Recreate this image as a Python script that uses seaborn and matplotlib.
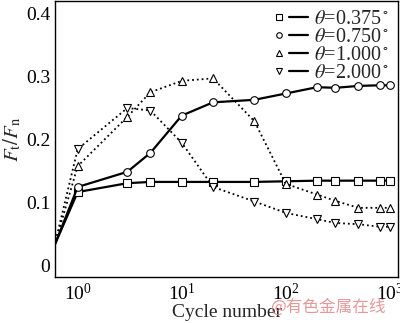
import matplotlib
matplotlib.use("Agg")
import matplotlib.pyplot as plt
import seaborn as sns
import pandas as pd
import numpy as np
from matplotlib.lines import Line2D
from matplotlib.legend_handler import HandlerTuple
from matplotlib.ticker import LogLocator, NullFormatter, FixedLocator

cycles = [0.6, 1, 3, 5, 10, 20, 50, 100, 200, 300, 500, 800, 1000]
theta_labels = ["0.375", "0.750", "1.000", "2.000"]
mu_0375 = [0.033, 0.117, 0.131, 0.133, 0.133, 0.133, 0.133, 0.134, 0.135, 0.135, 0.135, 0.135, 0.135]
mu_0750 = [0.033, 0.125, 0.149, 0.179, 0.238, 0.259, 0.263, 0.273, 0.283, 0.282, 0.285, 0.286, 0.286]
mu_1000 = [0.033, 0.158, 0.236, 0.275, 0.293, 0.297, 0.229, 0.130, 0.113, 0.103, 0.092, 0.092, 0.092]
mu_2000 = [0.033, 0.185, 0.250, 0.246, 0.195, 0.125, 0.102, 0.084, 0.074, 0.068, 0.066, 0.062, 0.062]
series = [mu_0375, mu_0750, mu_1000, mu_2000]
markers = ["s", "o", "^", "v"]
styles = ["-", "-", ":", ":"]
widths = [1.6, 1.6, 1.3, 1.3]

sns.set_style("white")
plt.rcParams["font.family"] = ["Liberation Serif", "DejaVu Serif"]
plt.rcParams["mathtext.fontset"] = "stix"

fig = plt.figure(figsize=(4.0, 3.23), dpi=100)
ax = fig.add_axes([0.1375, 0.1415, 0.8575, 0.8555])

for lab, vals, mk, ls, lw in zip(theta_labels, series, markers, styles, widths):
    df = pd.DataFrame({"cycle": cycles, "mu": vals})
    sns.lineplot(data=df, x="cycle", y="mu", ax=ax, color="black",
                 linestyle=ls, linewidth=lw, marker=mk, markersize=5.5,
                 markerfacecolor="white", markeredgecolor="black",
                 markeredgewidth=0.8, markevery=list(range(1, len(cycles))),
                 legend=False)
ax.set_xscale("log")
ax.set_xlim(0.605, 1200)
ax.set_ylim(-0.018, 0.4195)
ax.yaxis.set_major_locator(FixedLocator([0, 0.1, 0.2, 0.3, 0.4]))
ax.set_yticklabels(["0", "0.1", "0.2", "0.3", "0.4"])
ax.xaxis.set_major_locator(LogLocator(base=10, numticks=10))
ax.xaxis.set_minor_locator(LogLocator(base=10, subs=np.arange(2, 10), numticks=20))
ax.xaxis.set_minor_formatter(NullFormatter())
ax.tick_params(axis="both", which="major", direction="in", length=5, width=0.8,
               labelsize=14, colors="black")
ax.tick_params(axis="x", which="minor", direction="in", length=3, width=0.6)
ax.tick_params(axis="x", pad=4)
for s in ax.spines.values():
    s.set_color("black")
    s.set_linewidth(1.0)

ax.set_xlabel("Cycle number", fontsize=14, labelpad=0)
ax.set_ylabel(r"$F_\mathrm{t}/F_\mathrm{n}$", fontsize=15, labelpad=2)

handles = []
for mk in markers:
    m = Line2D([], [], color="black", marker=mk, linestyle="none", markersize=4,
               markerfacecolor="white", markeredgewidth=0.8)
    l = Line2D([], [], color="black", linestyle="-", linewidth=1.6)
    handles.append((m, l))
labels = [r"$\theta$=" + t + r"$^\circ$" for t in theta_labels]
ax.legend(handles, labels, handler_map={tuple: HandlerTuple(ndivide=2, pad=0.0)},
          loc="upper right", frameon=False, fontsize=14.5, handlelength=1.9,
          handletextpad=0.3, labelspacing=-0.05, borderaxespad=0.05,
          bbox_to_anchor=(1.0, 1.0))

fig.text(0.82, 0.05, "@有色金属在线", fontsize=12, color="#e08080", alpha=0.8,
         ha="center", va="center", family=["Noto Sans CJK SC", "DejaVu Sans"])

fig.savefig("out.png", dpi=100)
